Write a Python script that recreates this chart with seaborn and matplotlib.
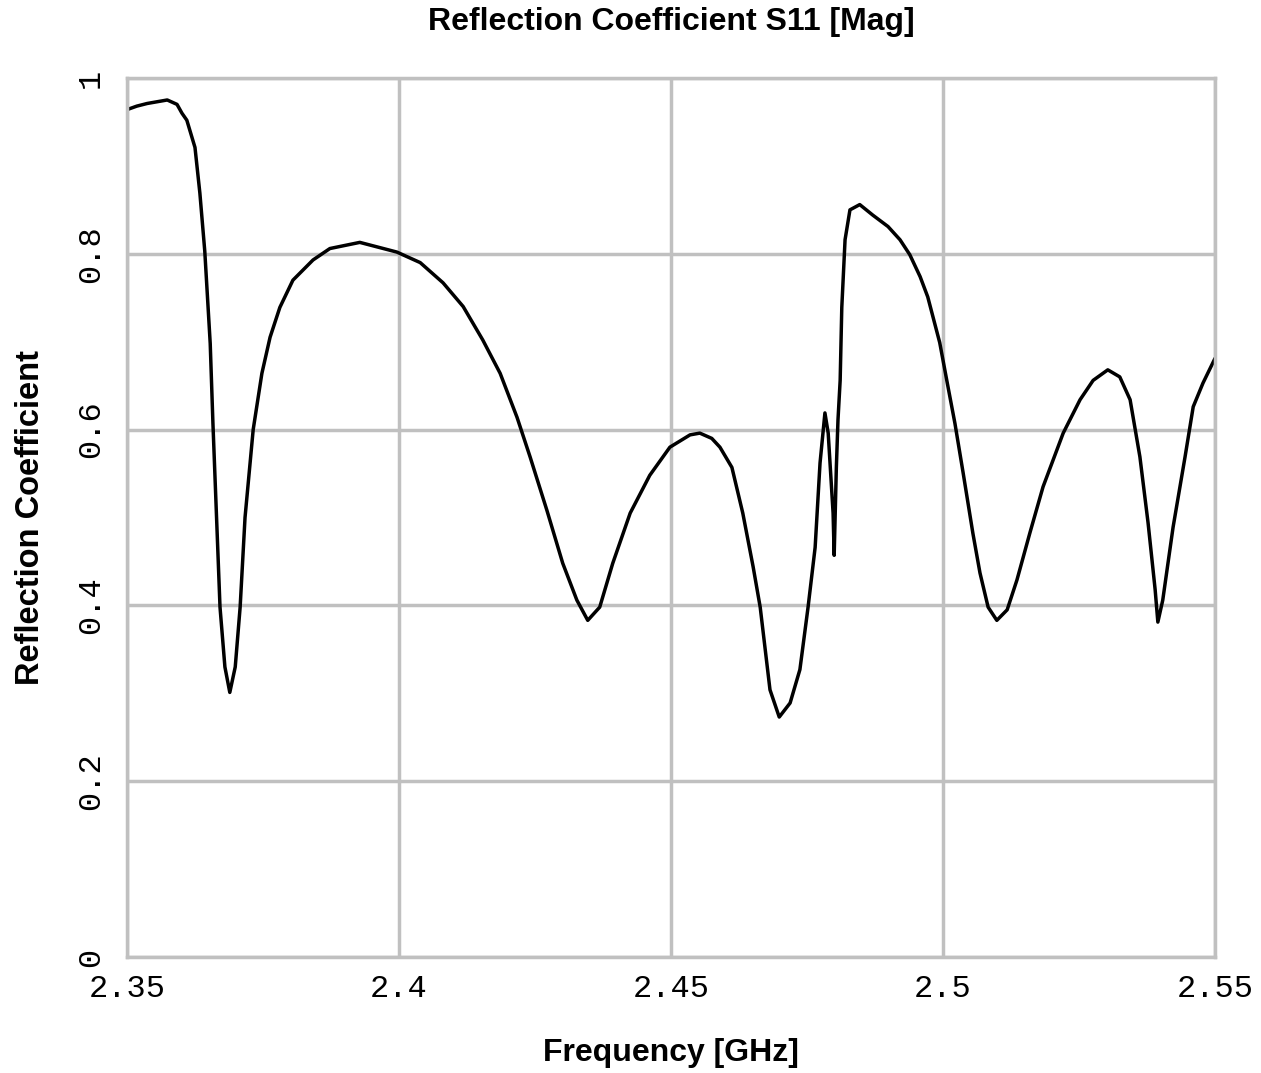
import numpy as np
import pandas as pd
import seaborn as sns
import matplotlib.pyplot as plt

# S11 magnitude
freq_ghz = [2.3500, 2.3518, 2.3537, 2.3574, 2.3592, 2.3601, 2.3610, 2.3625, 2.3634, 2.3643, 2.3653, 2.3658,
            2.3671, 2.3680, 2.3689, 2.3699, 2.3708, 2.3717, 2.3732, 2.3748, 2.3763, 2.3781, 2.3805,
            2.3842, 2.3873, 2.3928, 2.3996, 2.4039, 2.4081, 2.4118, 2.4154, 2.4186, 2.4217,
            2.4241, 2.4272, 2.4301, 2.4327, 2.4347, 2.4369, 2.4393, 2.4425, 2.4461, 2.4498,
            2.4535, 2.4553, 2.4575, 2.4590, 2.4612, 2.4632, 2.4651, 2.4664, 2.4682, 2.4699, 2.4719,
            2.4737, 2.4752, 2.4765, 2.4774, 2.4783, 2.4789, 2.4798, 2.4800, 2.4804, 2.4807,
            2.4811, 2.4814, 2.4820, 2.4829, 2.4847, 2.4871, 2.4899, 2.4921, 2.4939, 2.4958,
            2.4972, 2.4994, 2.5007, 2.5022, 2.5037, 2.5055, 2.5068, 2.5083, 2.5099, 2.5118,
            2.5136, 2.5160, 2.5184, 2.5221, 2.5252, 2.5276, 2.5303, 2.5325, 2.5344, 2.5362,
            2.5377, 2.5390, 2.5395, 2.5404, 2.5423, 2.5445, 2.5460, 2.5478, 2.5500]
s11_mag = [0.964, 0.968, 0.971, 0.975, 0.970, 0.960, 0.952, 0.921, 0.869, 0.803, 0.698, 0.607,
           0.398, 0.330, 0.301, 0.330, 0.398, 0.500, 0.600, 0.664, 0.705, 0.739, 0.770,
           0.793, 0.806, 0.813, 0.802, 0.790, 0.767, 0.740, 0.702, 0.664, 0.614,
           0.569, 0.508, 0.448, 0.406, 0.383, 0.398, 0.448, 0.505, 0.548, 0.580,
           0.594, 0.596, 0.590, 0.580, 0.557, 0.505, 0.444, 0.398, 0.304, 0.273, 0.289,
           0.327, 0.398, 0.466, 0.562, 0.619, 0.596, 0.505, 0.457, 0.557, 0.611,
           0.656, 0.739, 0.816, 0.850, 0.856, 0.844, 0.831, 0.816, 0.799, 0.774,
           0.751, 0.699, 0.656, 0.607, 0.551, 0.482, 0.437, 0.398, 0.383, 0.395,
           0.429, 0.483, 0.535, 0.596, 0.634, 0.656, 0.668, 0.660, 0.634, 0.569,
           0.494, 0.418, 0.381, 0.406, 0.489, 0.569, 0.626, 0.653, 0.681]

x_ticks = [2.35, 2.40, 2.45, 2.50, 2.55]
x_labels = ['2.35', '2.4', '2.45', '2.5', '2.55']
y_ticks = [0, 0.2, 0.4, 0.6, 0.8, 1.0]
y_labels = ['0', '0.2', '0.4', '0.6', '0.8', '1']

df = pd.DataFrame({'freq': freq_ghz, 's11': s11_mag})

sns.set_style('whitegrid')
plt.rcParams['font.family'] = ['Liberation Sans', 'DejaVu Sans']
plt.rcParams['text.color'] = 'black'
plt.rcParams['axes.labelcolor'] = 'black'
plt.rcParams['xtick.color'] = 'black'
plt.rcParams['ytick.color'] = 'black'
grid_col = '#c0c0c0'

fig = plt.figure(figsize=(12.61, 10.73), dpi=100)
ax = fig.add_axes([0.1007, 0.1081, 0.8628, 0.8192])
sns.lineplot(data=df, x='freq', y='s11', ax=ax, color='black', lw=2.5)

ax.set_xlim(2.35, 2.55)
ax.set_ylim(0, 1)
ax.set_xticks(x_ticks)
ax.set_xticklabels(x_labels, family='Liberation Mono', fontsize=23)
ax.set_yticks(y_ticks)
ax.set_yticklabels(y_labels, family='Liberation Mono', fontsize=23, rotation=90, va='center')
ax.tick_params(axis='x', length=0, pad=12, colors='black')
ax.tick_params(axis='y', length=0, pad=15, colors='black')
ax.grid(True, color=grid_col, lw=2.5)
for s in ax.spines.values():
    s.set_color(grid_col)
    s.set_linewidth(2.5)

ax.set_xlabel('Frequency [GHz]', fontsize=23, fontweight='bold', color='black')
ax.set_ylabel('Reflection Coefficient', fontsize=23.5, fontweight='bold', color='black')
ax.xaxis.set_label_coords(0.5, -0.109)
ax.yaxis.set_label_coords(-0.089, 0.5)
ax.xaxis.label.set_va('center')
ax.yaxis.label.set_va('center')
fig.text(0.532, 0.9795, 'Reflection Coefficient S11 [Mag]', ha='center', va='center',
         fontsize=23, fontweight='bold', color='black')

plt.savefig('out.png', dpi=100)
